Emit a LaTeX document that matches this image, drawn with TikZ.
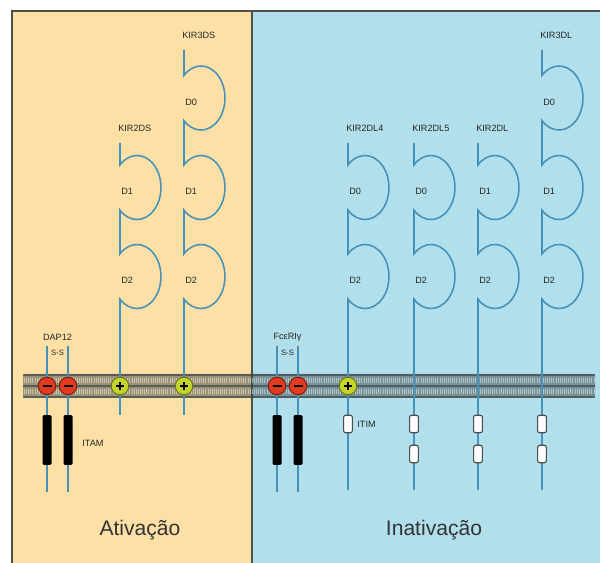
\documentclass[tikz,border=0pt]{standalone}
\usepackage{fontspec}
\setmainfont{Liberation Sans}
\usetikzlibrary{positioning,calc}
\definecolor{actcol}{RGB}{253,224,165}
\definecolor{inhcol}{RGB}{178,223,236}
\definecolor{framecol}{RGB}{78,80,72}
\definecolor{chaincol}{RGB}{70,145,185}
\definecolor{memcol}{RGB}{60,72,72}
\definecolor{poscol}{RGB}{196,212,40}
\definecolor{negcol}{RGB}{226,58,32}

\begin{document}
\begin{tikzpicture}[x=0.025cm, y=0.025cm,
  rcp/.style={draw=chaincol, line width=1.1pt},
  dom/.style={font=\fontsize{6.5}{7}\selectfont, text=black!85, anchor=west, inner sep=0pt},
  lb/.style={font=\fontsize{6.5}{7}\selectfont, text=black!85, inner sep=0pt},
  chg/.style={circle, draw=#1!55!black, fill=#1, line width=0.7pt,
              minimum size=12.5pt, inner sep=0pt},
  poschg/.style={chg=poscol, path picture={
      \draw[black, line width=1.4pt] (path picture bounding box.center) ++(-3pt,0) -- ++(6pt,0)
                              (path picture bounding box.center) ++(0,-3pt) -- ++(0,6pt);}},
  negchg/.style={chg=negcol, path picture={
      \draw[black, line width=1.4pt] (path picture bounding box.center) ++(-3.2pt,0) -- ++(6.4pt,0);}},
  itam/.style={fill=black, rounded corners=1pt, minimum width=6.4pt,
               minimum height=35.5pt, inner sep=0pt},
  itim/.style={draw=black!70, fill=white, line width=0.8pt, rounded corners=1.5pt,
               minimum width=6.2pt, minimum height=12.5pt, inner sep=0pt},
  big/.style={font=\fontsize{15}{18}\selectfont, text=black!80}
]
\useasboundingbox (0,0) rectangle (600,563);

% two panels and the frame
\fill[actcol] (12,0) rectangle (252,552);
\fill[inhcol] (252,0) rectangle (600,552);
\draw[framecol, line width=1.5pt] (12,0) |- (600,552);
\draw[framecol, line width=1.2pt] (252,0) -- (252,552);

% membrane
\fill[memcol, opacity=0.5, rounded corners=2pt] (23,165) rectangle (595,189);
\foreach \y in {166,177,188}
  \draw[memcol, opacity=0.7, line width=0.9pt] (23,\y) -- (595,\y);
\foreach \y in {171.5,182.5}
  \draw[white, opacity=0.45, line width=3.2pt, dash pattern=on 0.6pt off 0.9pt] (24,\y) -- (594,\y);

% KIR receptors: x / top / bottom / name / domains
\foreach \x/\yt/\yb/\nm/\doms in {
    120/420/148/KIR2DS/{D1/375.5,D2/286.5},
    184/513/148/KIR3DS/{D0/465,D1/375.5,D2/286.5},
    348/420/73/KIR2DL4/{D0/375.5,D2/286.5},
    414/420/73/KIR2DL5/{D0/375.5,D2/286.5},
    478/420/73/KIR2DL/{D1/375.5,D2/286.5},
    542/513/73/KIR3DL/{D0/465,D1/375.5,D2/286.5}}
{
  \draw[rcp] (\x,\yt) \foreach \d/\yc in \doms {
      -- (\x,\yc+22.6) arc[start angle=135, end angle=-135, x radius=24, y radius=32]}
      -- (\x,\yb);
  \node[dom] (\nm-lab) at (\x-2,\yt+15) {\nm};
  \foreach \d/\yc in \doms
    \node[dom] (\nm-\d) at (\x+1,\yc-4) {\d};
}

% adaptor chains with ITAM
\foreach \x/\nm in {47/dapA,68/dapB,277/fcrA,298/fcrB} {
  \draw[rcp] (\x,217) -- (\x,71);
  \node[itam] (\nm-itam) at (\x,123) {};
  \node[negchg] (\nm-chg) at (\x,177) {};
}
\node[lb] (dap)   at (57.5,226) {DAP12};
\node[lb, font=\fontsize{5.5}{6}\selectfont] (dapss) at (57.5,210) {S-S};
\node[lb] (fcr)   at (287.5,226) {FcεRIγ};
\node[lb, font=\fontsize{5.5}{6}\selectfont] (fcrss) at (287.5,210) {S-S};
\node[lb] (itamlab) at (93,120) {ITAM};

% charged residues of the activating KIRs
\foreach \x/\nm in {120/pA,184/pB,348/pC}
  \node[poschg] (\nm) at (\x,177) {};

% ITIM motifs
\node[itim] (itimA) at (348,139) {};
\node[lb, right=3pt of itimA] (itimlab) {ITIM};
\foreach \x/\nm in {414/B,478/C,542/D} {
  \node[itim] (itim\nm1) at (\x,139) {};
  \node[itim] (itim\nm2) at (\x,109) {};
}

\node[big] (act) at (140,33) {Ativação};
\node[big] (inh) at (434,33) {Inativação};

\end{tikzpicture}
\end{document}
